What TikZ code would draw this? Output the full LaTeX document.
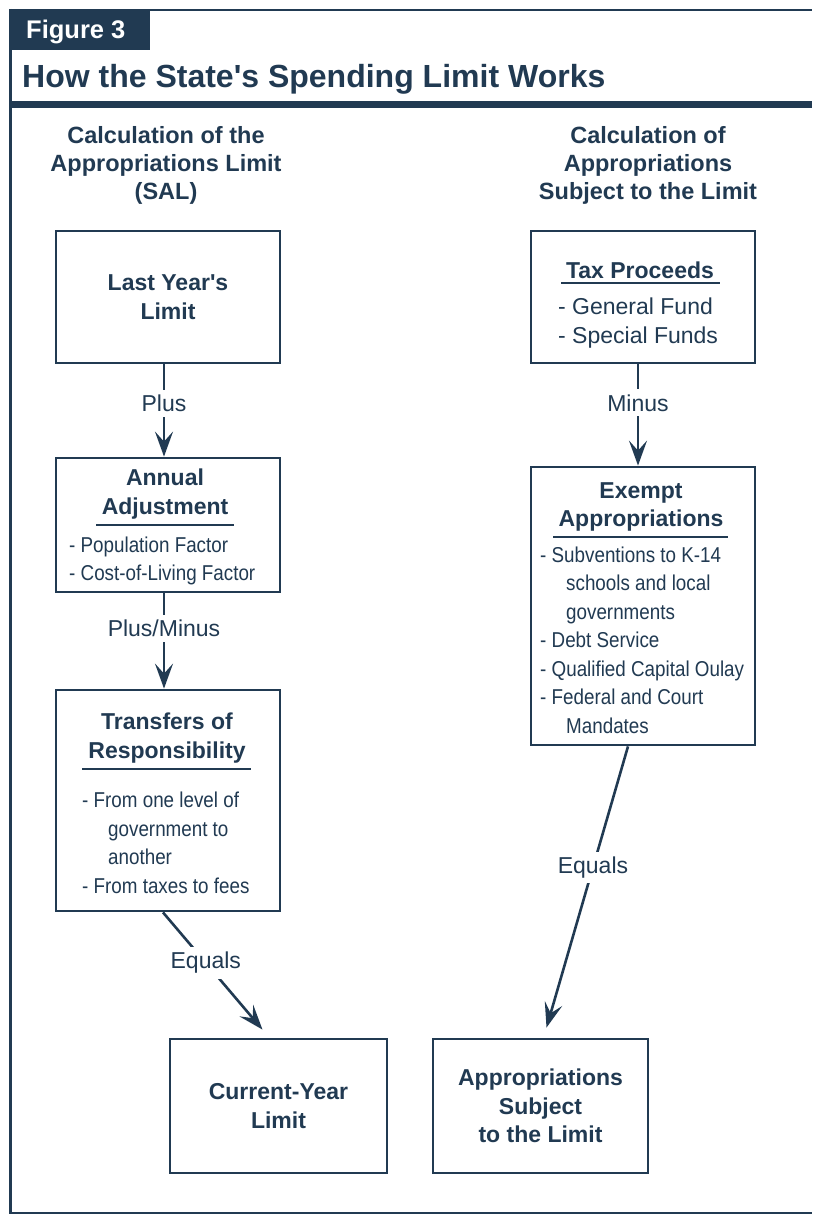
\documentclass[tikz,border=0pt]{standalone}
\usepackage{fontspec}
\setmainfont{Liberation Sans}
\newfontfamily\narrowsans[FakeStretch=0.875]{Liberation Sans}
\usetikzlibrary{arrows.meta}
\definecolor{navy}{HTML}{213A52}

\begin{document}
\begin{tikzpicture}[x=1pt,y=-1pt,
  every node/.style={text=navy,inner sep=0pt},
  box/.style={draw=navy,line width=2.8pt,fill=white,minimum width=224pt,minimum height=132pt},
  boxhead/.style={font=\bfseries\fontsize{23}{28.5}\selectfont,align=center},
  boxitem/.style={font=\narrowsans\fontsize{21.5}{28.5}\selectfont,align=left,anchor=west},
  colhead/.style={font=\bfseries\fontsize{23.5}{28}\selectfont,align=center},
  oplabel/.style={font=\fontsize{23}{28}\selectfont,fill=white,inner sep=5pt},
  flow/.style={draw=navy,line width=2.6pt,-{Stealth[length=25pt,width=18pt,inset=10pt]}},
  rule/.style={draw=navy,line width=2.4pt}]
  \useasboundingbox (0,0) rectangle (812,1215);

  %Frame
  \fill[navy] (9,9) rectangle (150,50);
  \draw[navy,line width=2pt] (9,10) -- (812,10);
  \draw[navy,line width=3pt] (10,9) -- (10,1214);
  \draw[navy,line width=2pt] (9,1213) -- (812,1213);
  \fill[navy] (9,101) rectangle (812,108);
  \node[anchor=base west,text=white,font=\bfseries\fontsize{25.5}{25.5}\selectfont] (fignum) at (26,39) {Figure 3};
  \node[anchor=base west,font=\bfseries\fontsize{32}{32}\selectfont] (title) at (22,88) {How the State\textquotesingle s Spending Limit Works};

  %Column headings
  \node[colhead] (salhead) at (166,165) {Calculation of the\\Appropriations Limit\\(SAL)};
  \node[colhead] (aslhead) at (648,165) {Calculation of\\Appropriations\\Subject to the Limit};

  %Left column
  \node[box,boxhead] (lastyear) at (168,297) {Last Year\textquotesingle s\\Limit};

  \node[box,minimum height=134pt] (annual) at (168,525) {};
  \node[boxhead] (annualhead) at (165,494) {Annual\\Adjustment};
  \draw[rule] (96,525) -- (234,525);
  \node[boxitem] (annualitems) at (69,561) {- Population Factor\\- Cost-of-Living Factor};

  \node[box,minimum height=221pt] (transfers) at (168,800.5) {};
  \node[boxhead] (transfershead) at (167,738) {Transfers of\\Responsibility};
  \draw[rule] (82,769) -- (251,769);
  \node[boxitem] (transfersitems) at (82,843) {- From one level of\\\hspace*{26pt}government to\\\hspace*{26pt}another\\- From taxes to fees};

  \node[box,boxhead,minimum width=217pt,minimum height=134pt] (current) at (278.5,1106) {Current-Year\\Limit};

  %Right column
  \node[box] (tax) at (643,297) {};
  \node[boxhead] (taxhead) at (640,270) {Tax Proceeds};
  \draw[rule] (561,283) -- (720,283);
  \node[boxitem,font=\fontsize{23}{29}\selectfont] (taxitems) at (558,323) {- General Fund\\- Special Funds};

  \node[box,minimum height=278pt] (exempt) at (643,606) {};
  \node[boxhead] (exempthead) at (641,507) {Exempt\\Appropriations};
  \draw[rule] (553,537) -- (728,537);
  \node[boxitem] (exemptitems) at (540,640) {- Subventions to K-14\\\hspace*{26pt}schools and local\\\hspace*{26pt}governments\\- Debt Service\\- Qualified Capital Oulay\\- Federal and Court\\\hspace*{26pt}Mandates};

  \node[box,boxhead,minimum width=215pt,minimum height=134pt] (subject) at (540.5,1106) {Appropriations\\Subject\\to the Limit};

  %Connectors
  \draw[flow] ([xshift=-4pt]lastyear.south) -- node[oplabel,pos=0.42] (plus) {Plus} ([xshift=-4pt]annual.north);
  \draw[flow] ([xshift=-4pt]annual.south) -- node[oplabel,pos=0.37] (plusminus) {Plus/Minus} ([xshift=-4pt]transfers.north);
  \draw[flow] ([xshift=-5pt]transfers.south) -- node[oplabel,pos=0.43] (equalsleft) {Equals} ([xshift=-16pt,yshift=8pt]current.north);
  \draw[flow] ([xshift=-5pt]tax.south) -- node[oplabel,pos=0.38] (minus) {Minus} ([xshift=-5pt]exempt.north);
  \draw[flow] ([xshift=-15pt]exempt.south) -- node[oplabel,pos=0.43] (equalsright) {Equals} ([xshift=6pt,yshift=10pt]subject.north);
\end{tikzpicture}
\end{document}
